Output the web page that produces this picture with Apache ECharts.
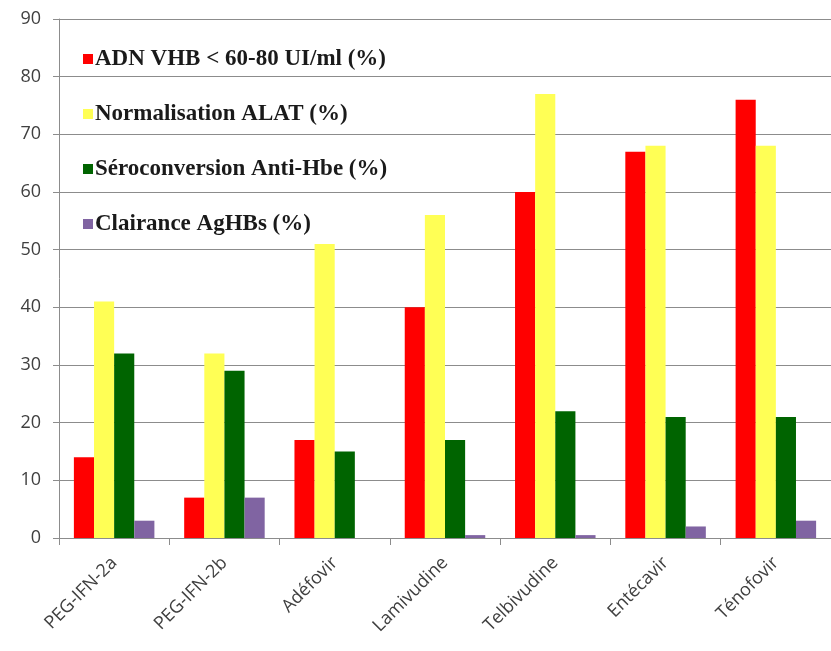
<!DOCTYPE html>
<html><head><meta charset="utf-8">
<script src="https://cdn.jsdelivr.net/npm/echarts@6/dist/echarts.min.js"></script>
<style>html,body{margin:0;padding:0;background:#fff}#c{width:831px;height:651px}</style>
</head><body><div id="c"></div>
<script>
const categories = ['PEG-IFN-2a','PEG-IFN-2b','Adéfovir','Lamivudine','Telbivudine','Entécavir','Ténofovir'];
const seriesNames = ['ADN VHB < 60-80 UI/ml (%)','Normalisation ALAT (%)','Séroconversion Anti-Hbe (%)','Clairance AgHBs (%)'];
const adnVhb = [14, 7, 17, 40, 60, 67, 76];
const normalisationAlat = [41, 32, 51, 56, 77, 68, 68];
const seroconversion = [32, 29, 15, 17, 22, 21, 21];
const clairance = [3, 7, 0, 0.5, 0.5, 2, 3];
const yTicks = {min: 0, max: 90, interval: 10};
const colors = ['#ff0000', '#ffff55', '#006400', '#8064a2'];

const dataSets = [adnVhb, normalisationAlat, seroconversion, clairance];
const chart = echarts.init(document.getElementById('c'));
chart.setOption({
  animation: false,
  color: colors,
  grid: {left: 59, top: 19, width: 777, height: 519, containLabel: false},
  legend: {
    orient: 'vertical', left: 78, top: 42,
    itemWidth: 10, itemHeight: 10, itemGap: 31,
    icon: 'rect',
    textStyle: {fontFamily: 'Liberation Serif', fontWeight: 'bold', fontSize: 23, color: '#1a1a1a', lineHeight: 24, padding: [0,0,0,-3]},
    data: seriesNames
  },
  xAxis: {
    type: 'category', data: categories,
    axisLine: {lineStyle: {color: '#8c8c8c', width: 1}},
    axisTick: {show: true, length: 7, lineStyle: {color: '#8c8c8c'}},
    axisLabel: {rotate: 45, fontFamily: 'Open Sans', fontSize: 18, color: '#404040', margin: 22, interval: 0}
  },
  yAxis: {
    type: 'value', min: yTicks.min, max: yTicks.max, interval: yTicks.interval,
    axisLine: {show: true, lineStyle: {color: '#8c8c8c'}},
    axisTick: {show: true, length: 6, lineStyle: {color: '#8c8c8c'}},
    axisLabel: {fontFamily: 'Open Sans', fontSize: 18, color: '#404040', margin: 18},
    splitLine: {lineStyle: {color: '#8c8c8c'}}
  },
  series: dataSets.map((d, i) => ({
    name: seriesNames[i], type: 'bar', data: d,
    barGap: '0%', barCategoryGap: '27%'
  }))
});
</script></body></html>
